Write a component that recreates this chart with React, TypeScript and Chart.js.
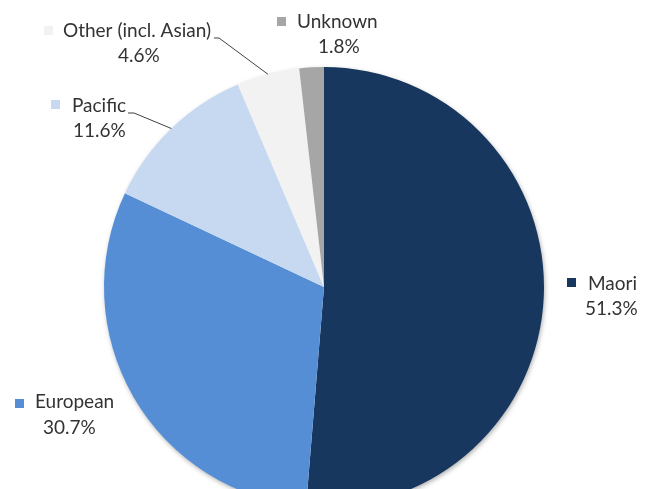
import React, { useEffect, useRef } from "react";
import { Chart, registerables } from "chart.js";

Chart.register(...registerables);

const categories = ["Maori", "European", "Pacific", "Other (incl. Asian)", "Unknown"];
const values = [51.3, 30.7, 11.6, 4.6, 1.8];
const percentLabels = ["51.3%", "30.7%", "11.6%", "4.6%", "1.8%"];
const colors = ["#17375E", "#558ED5", "#C6D9F1", "#F2F2F2", "#A6A6A6"];

// label layout: square (sx, sy), name (tx, ty baseline), percent (px, py baseline), leader start on text side
const labelLayout = [
  { sx: 567, sy: 278, tx: 588, ty: 290, px: 585, py: 315, leader: null as null | number[] },
  { sx: 15, sy: 399, tx: 35, ty: 408, px: 43, py: 434, leader: null as null | number[] },
  { sx: 51, sy: 100, tx: 72, ty: 112, px: 73, py: 137, leader: [128, 113, 134, 113] },
  { sx: 44, sy: 26, tx: 63, ty: 37, px: 118, py: 62, leader: [214, 38, 219, 38] },
  { sx: 277, sy: 17, tx: 297, ty: 28, px: 318, py: 53, leader: null as null | number[] },
];

const FONT = "19px Lato, 'Open Sans', sans-serif";
const TEXT_COLOR = "#333333";

const shadowPlugin = {
  id: "pieShadow",
  beforeDatasetsDraw(chart: any) {
    const meta = chart.getDatasetMeta(0);
    const arc = meta.data[0];
    if (!arc) return;
    const { x, y, outerRadius } = arc.getProps(["x", "y", "outerRadius"], true);
    const ctx = chart.ctx;
    ctx.save();
    ctx.shadowColor = "rgba(0,0,0,0.35)";
    ctx.shadowBlur = 5;
    ctx.shadowOffsetX = 1;
    ctx.shadowOffsetY = 2;
    ctx.fillStyle = "#ffffff";
    ctx.beginPath();
    ctx.arc(x, y, outerRadius - 0.5, 0, Math.PI * 2);
    ctx.fill();
    ctx.restore();
  },
};

const labelPlugin = {
  id: "pieLabels",
  afterDatasetsDraw(chart: any) {
    const ctx = chart.ctx;
    const meta = chart.getDatasetMeta(0);
    ctx.save();
    ctx.font = FONT;
    ctx.textBaseline = "alphabetic";
    ctx.textAlign = "left";
    categories.forEach((name, i) => {
      const L = labelLayout[i];
      ctx.fillStyle = colors[i];
      ctx.fillRect(L.sx, L.sy, 9, 9);
      ctx.fillStyle = TEXT_COLOR;
      ctx.fillText(name, L.tx, L.ty);
      ctx.fillText(percentLabels[i], L.px, L.py);
      if (L.leader) {
        const arc = meta.data[i];
        const { x, y, outerRadius, startAngle, endAngle } = arc.getProps(
          ["x", "y", "outerRadius", "startAngle", "endAngle"],
          true
        );
        const mid = (startAngle + endAngle) / 2;
        const ax = x + Math.cos(mid) * outerRadius;
        const ay = y + Math.sin(mid) * outerRadius;
        ctx.strokeStyle = "#404040";
        ctx.lineWidth = 1;
        ctx.beginPath();
        ctx.moveTo(L.leader[0], L.leader[1]);
        ctx.lineTo(L.leader[2], L.leader[3]);
        ctx.lineTo(ax, ay);
        ctx.stroke();
      }
    });
    ctx.restore();
  },
};

export default function App() {
  const ref = useRef<HTMLCanvasElement | null>(null);
  useEffect(() => {
    if (!ref.current) return;
    const chart = new Chart(ref.current, {
      type: "pie",
      data: {
        labels: categories,
        datasets: [
          {
            data: values,
            backgroundColor: colors,
            borderWidth: 0,
          },
        ],
      },
      options: {
        animation: false,
        responsive: false,
        maintainAspectRatio: false,
        layout: { padding: { left: 104, right: 107, top: 67, bottom: 33 } },
        plugins: {
          legend: { display: false },
          tooltip: { enabled: false },
        },
      },
      plugins: [shadowPlugin, labelPlugin],
    });
    return () => chart.destroy();
  }, []);
  return (
    <div
      style={{
        position: "fixed",
        left: 0,
        top: 0,
        width: 651,
        height: 489,
        overflow: "hidden",
        background: "#ffffff",
      }}
    >
      <canvas ref={ref} width={651} height={540} style={{ display: "block", width: 651, height: 540 }} />
    </div>
  );
}
